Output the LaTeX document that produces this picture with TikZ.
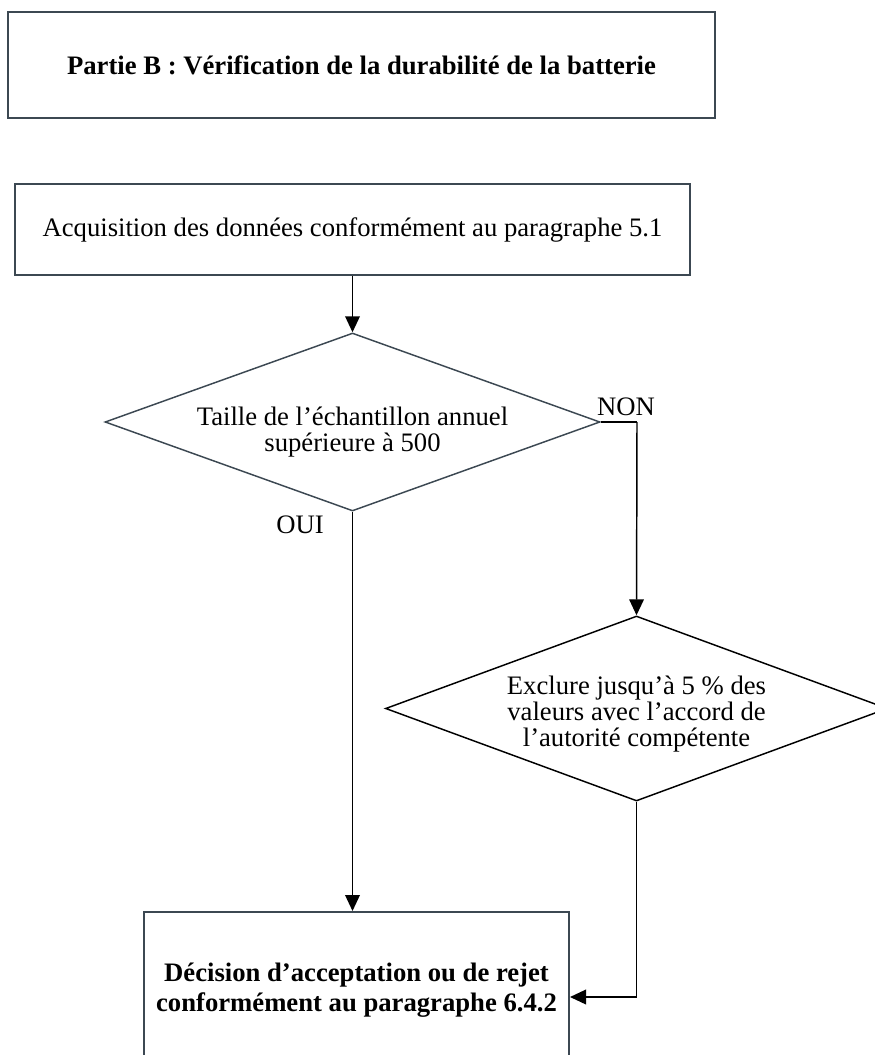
\documentclass[tikz,border=0pt]{standalone}
\usepackage{fontspec}
\setmainfont{Liberation Serif}
\usetikzlibrary{arrows.meta,positioning,calc,shapes.geometric}
\definecolor{edgegray}{RGB}{60,72,82}

\begin{document}
\begin{tikzpicture}[
    x=0.75pt, y=-0.75pt,
    box/.style={rectangle, draw=edgegray, line width=1.5pt, align=center, inner sep=0pt, font=\fontsize{20}{23}\selectfont},
    decision/.style={diamond, draw=edgegray, line width=1.1pt, inner sep=0pt},
    arrow/.style={-{Triangle[length=12pt,width=11pt]}, line width=1.1pt},
    link/.style={line width=1.1pt},
    lbl/.style={font=\fontsize{20}{19.5}\selectfont, align=center, inner sep=0pt}
]
    \useasboundingbox (0,0) rectangle (874,1055);

    % Title
    \node[box, font=\fontsize{20}{23}\selectfont\bfseries, minimum width=530.25pt, minimum height=79.5pt] (title) at (361.5,65) {Partie B : Vérification de la durabilité de la batterie};

    % Steps
    \node[box, minimum width=506.25pt, minimum height=68.25pt] (acq) at (352.5,229.5) {Acquisition des données conformément au paragraphe 5.1};
    \node[decision, minimum width=371.25pt, minimum height=133.5pt] (size) at (352.5,422) {};
    \node[lbl, yshift=-7.5pt] (sizetxt) at (size.center) {Taille de l’échantillon annuel\\supérieure à 500};
    \node[decision, draw=black, minimum width=376.5pt, minimum height=138.75pt] (excl) at (636.5,708.5) {};
    \node[lbl, yshift=-4pt] (excltxt) at (excl.center) {Exclure jusqu’à 5 \% des\\valeurs avec l’accord de\\l’autorité compétente};
    \node[box, font=\fontsize{20}{23}\selectfont\bfseries, minimum width=318.75pt, minimum height=117pt] (decis) at (356.5,990) {Décision d’acceptation ou de rejet\\conformément au paragraphe 6.4.2};

    % Connectors
    \coordinate (bend) at (637,422);
    \coordinate (turn) at (636.5,997);
    \draw[arrow] (acq.south -| size.north) -- (size.north);
    \draw[link] (size.east) -- (bend);
    \draw[arrow] (bend) -- (excl.north);
    \draw[arrow] (size.south) -- (size.south |- decis.north);
    \draw[link] (excl.south) -- (turn);
    \draw[arrow] (turn) -- (turn -| decis.east);

    % Labels
    \node[lbl, anchor=base] (non) at (626,415) {NON};
    \node[lbl, anchor=base] (oui) at (300,533) {OUI};
\end{tikzpicture}
\end{document}
